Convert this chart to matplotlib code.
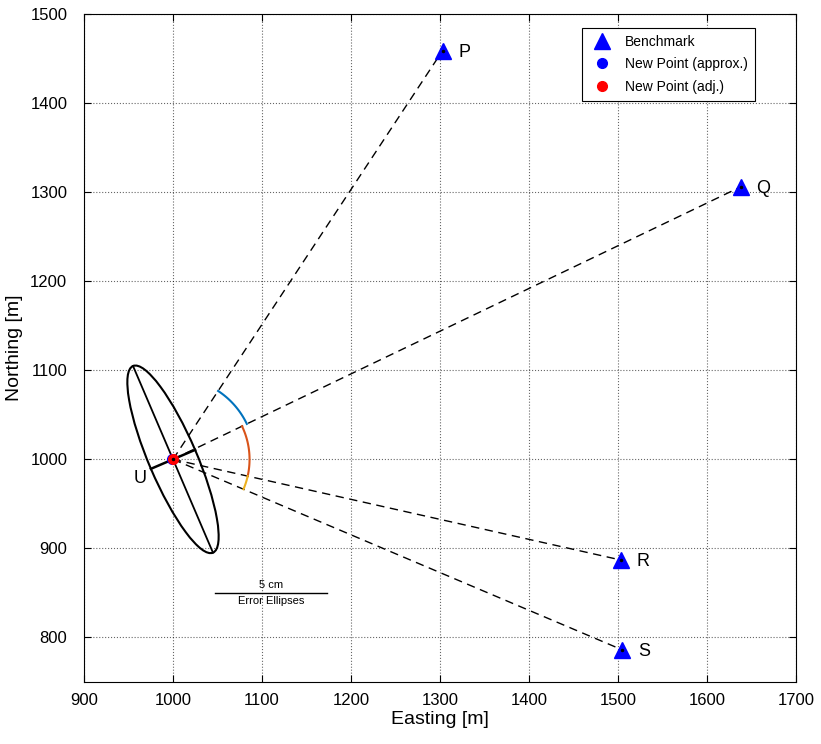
import numpy as np
import matplotlib.pyplot as plt
from matplotlib.patches import Ellipse

plt.rcParams['font.family'] = ['Liberation Sans', 'DejaVu Sans']

# ---------------------------------------------------

bm_names = ['P', 'Q', 'R', 'S']
bm_east = [1303, 1638, 1503, 1505]
bm_north = [1459, 1306, 887, 786]

approx_east, approx_north = 998.5, 1000.5
adj_east, adj_north = 1000, 1000

# error ellipse (plotted at map scale)
ell_a = 114      # semi-major
ell_b = 27       # semi-minor
ell_theta = 113.2  # deg from easting axis

arc_radius = [92, 86, 86]
arc_colors = ['#0072BD', '#D95319', '#EDB120']

scale_x = [1047, 1173]
scale_y = 850

# ---------------------------------------------------

fig = plt.figure(figsize=(8.21, 7.44), dpi=100)
ax = fig.add_axes([84/821, 1 - 682/744, 712/821, 668/744])

# observation lines
for e, n in zip(bm_east, bm_north):
    ax.plot([adj_east, e], [adj_north, n], 'k--', linewidth=1, dashes=(6, 4))

# angle arcs between consecutive directions
ang = np.arctan2(np.array(bm_north) - adj_north, np.array(bm_east) - adj_east)
for i in range(3):
    t = np.linspace(ang[i], ang[i + 1], 60)
    r = arc_radius[i]
    ax.plot(adj_east + r*np.cos(t), adj_north + r*np.sin(t), color=arc_colors[i], linewidth=1.5)

# error ellipse and its axes
ax.add_patch(Ellipse((adj_east, adj_north), 2*ell_a, 2*ell_b, angle=ell_theta,
                     fill=False, edgecolor='k', linewidth=1.5))
th = np.deg2rad(ell_theta)
ax.plot([adj_east - ell_a*np.cos(th), adj_east + ell_a*np.cos(th)],
        [adj_north - ell_a*np.sin(th), adj_north + ell_a*np.sin(th)], 'k-', linewidth=1.3)
ax.plot([adj_east - ell_b*np.cos(th + np.pi/2), adj_east + ell_b*np.cos(th + np.pi/2)],
        [adj_north - ell_b*np.sin(th + np.pi/2), adj_north + ell_b*np.sin(th + np.pi/2)], 'k-', linewidth=1.8)

# points
ax.plot(bm_east, bm_north, '^', color='b', markersize=11, linestyle='none', label='Benchmark', zorder=5)
ax.plot(approx_east, approx_north, 'o', color='b', markersize=7, label='New Point (approx.)', zorder=5)
ax.plot(adj_east, adj_north, 'o', color='r', markersize=7, label='New Point (adj.)', zorder=6)
ax.plot(bm_east, bm_north, 'k.', markersize=3, zorder=7)
ax.plot(adj_east, adj_north, 'k.', markersize=3, zorder=7)

for nm, e, n in zip(bm_names, bm_east, bm_north):
    ax.text(e + 25, n - 2, nm, fontsize=13, va='center', ha='center')
ax.text(adj_east - 37, adj_north - 22, 'U', fontsize=13, va='center', ha='center')

# scale bar
ax.plot(scale_x, [scale_y, scale_y], 'k-', linewidth=1)
ax.text(np.mean(scale_x), scale_y + 3, '5 cm', fontsize=8, ha='center', va='bottom')
ax.text(np.mean(scale_x), scale_y - 3, 'Error Ellipses', fontsize=8, ha='center', va='top')

ax.set_xlim(900, 1700)
ax.set_ylim(750, 1500)
ax.set_xticks(np.arange(900, 1701, 100))
ax.set_yticks(np.arange(800, 1501, 100))
ax.grid(True, linestyle=':', color='k', linewidth=0.8, alpha=0.6)
ax.tick_params(direction='in', top=True, right=True, labelsize=12, length=5)
ax.tick_params(axis='x', pad=8)
ax.tick_params(axis='y', pad=12)
ax.set_xlabel('Easting [m]', fontsize=14, labelpad=2)
ax.set_ylabel('Northing [m]', fontsize=14, labelpad=5)

leg = ax.legend(loc='upper right', bbox_to_anchor=(0.9424, 0.979), borderaxespad=0,
                fontsize=10, fancybox=False, edgecolor='k', framealpha=1,
                handlelength=1.8, handletextpad=0.8, borderpad=0.5, labelspacing=0.6)
leg.get_frame().set_linewidth(0.8)

plt.savefig('out.png', dpi=100)
